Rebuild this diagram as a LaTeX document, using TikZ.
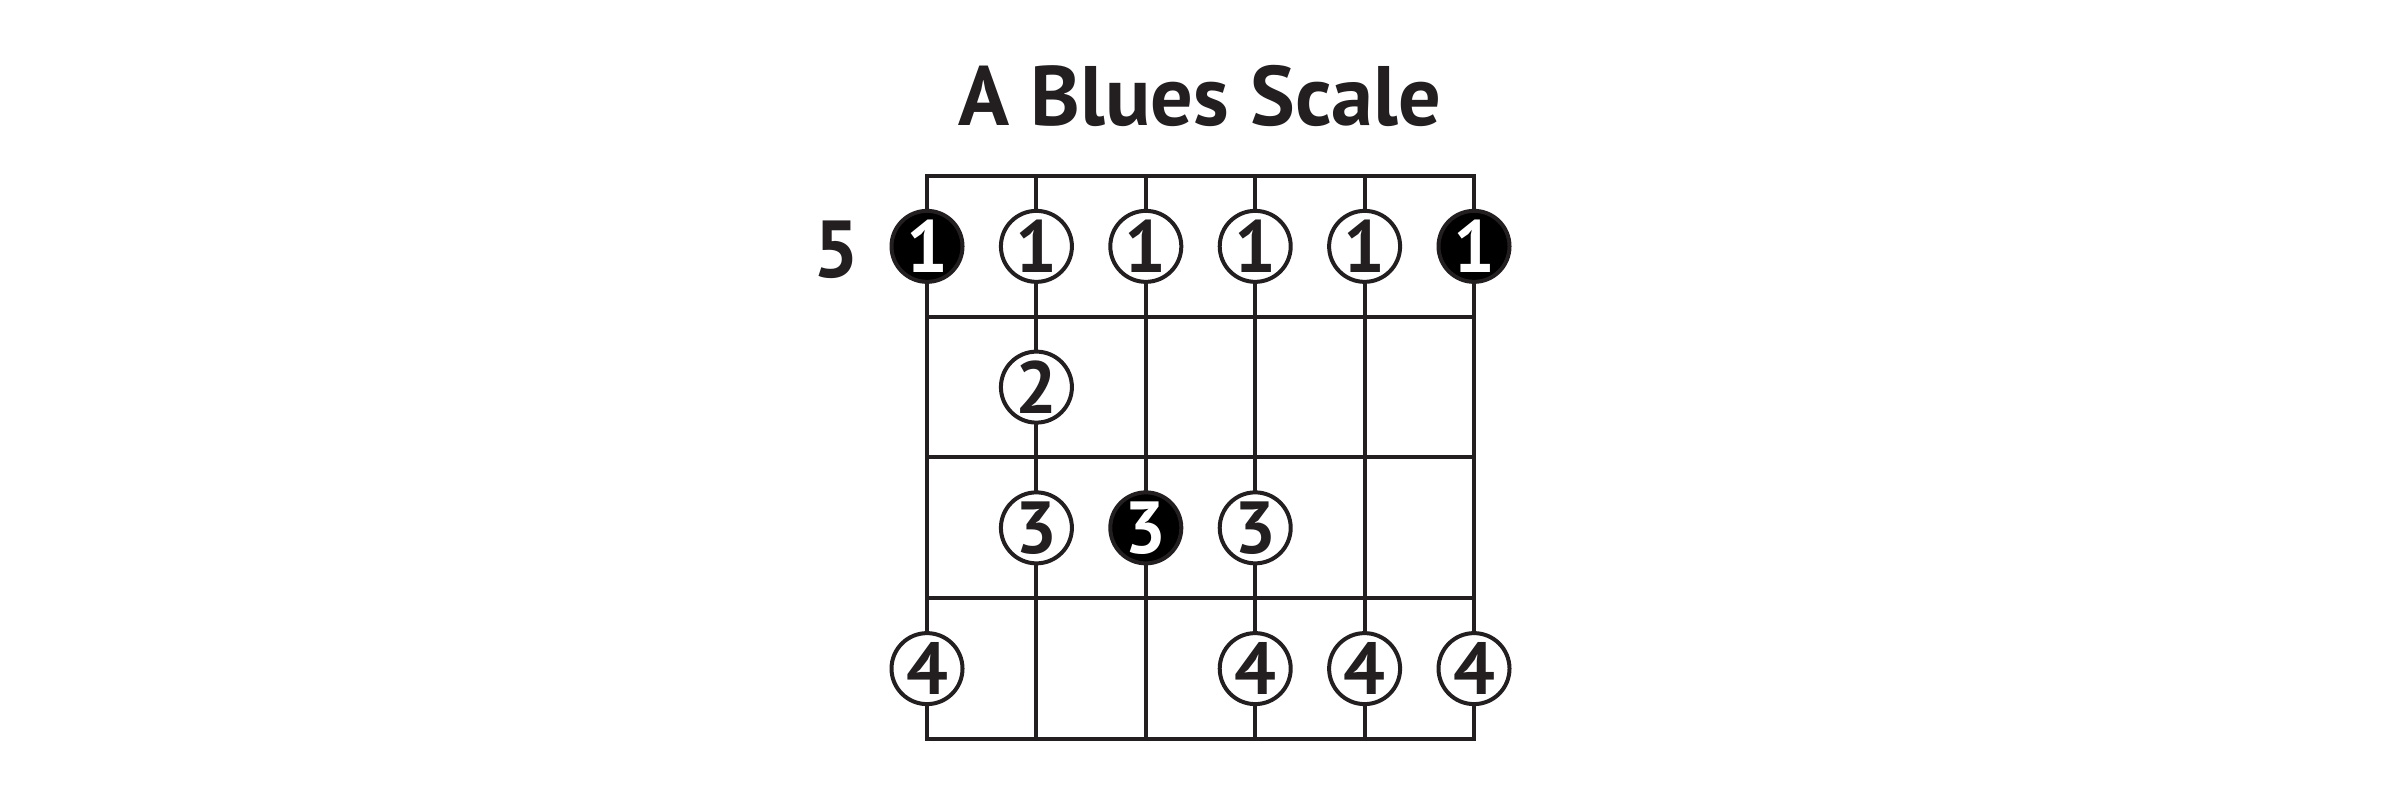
\documentclass[tikz,border=0pt]{standalone}
\usepackage{fontspec}
\setmainfont{PT Sans}
\usetikzlibrary{positioning}
\definecolor{FretInk}{HTML}{231F20}
\tikzset{
    gridline/.style = {draw=FretInk, line width=0.04cm, line cap=rect},
    note/.style = {draw=FretInk, circle, fill=white, line width=0.04cm,
        minimum size=0.71cm, inner sep=0pt, text=FretInk,
        font=\bfseries\fontsize{21}{21}\selectfont},
    rootnote/.style = {note, fill=black, text=white},
    heading/.style = {anchor=base, text=FretInk,
        font=\bfseries\fontsize{24}{24}\selectfont},
    fretnum/.style = {anchor=base, text=FretInk,
        font=\bfseries\fontsize{23}{23}\selectfont}
}

\begin{document}
\begin{tikzpicture}
  \useasboundingbox (0,0) rectangle (24,8);
  \node[heading] (title) at (12,6.74) {A Blues Scale};
  \begin{scope}[shift={(9.27,6.24)}, x=1.094cm, y=-1.4075cm]
    % strings
    \foreach \s in {0,...,5} {
      \coordinate (s\s top) at (\s,0);
      \coordinate (s\s bot) at (\s,4);
      \draw[gridline] (s\s top) -- (s\s bot);
    }
    % frets
    \foreach \f in {0,...,4} {
      \coordinate (f\f left) at (0,\f);
      \coordinate (f\f right) at (5,\f);
      \draw[gridline] (f\f left) -- (f\f right);
    }
    % fingerings
    \foreach \s/\f in {1/1,2/1,3/1,4/1,1/3,3/3,0/4,3/4,4/4,5/4}
      \node[note] (n\s\f) at (\s,\f-0.5) {\f};
    \node[note] (n12) at (1,1.5) {2};
    \foreach \s/\f in {0/1,5/1,2/3}
      \node[rootnote] (n\s\f) at (\s,\f-0.5) {\f};
  \end{scope}
  \node[fretnum] (fret) at (8.36,5.22) {5};
\end{tikzpicture}
\end{document}
